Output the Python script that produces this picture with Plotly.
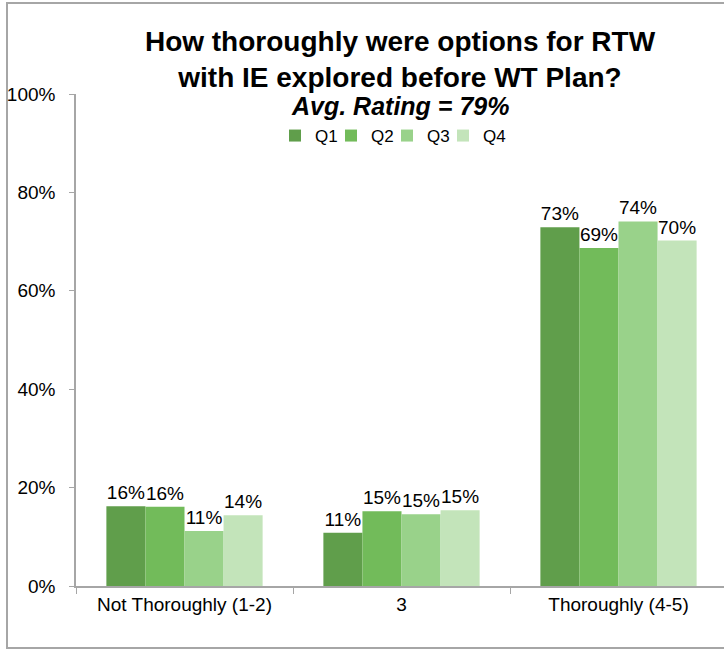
import plotly.graph_objects as go

categories = ["Not Thoroughly (1-2)", "3", "Thoroughly (4-5)"]
series_names = ["Q1", "Q2", "Q3", "Q4"]
q1 = [0.162, 0.108, 0.729]
q2 = [0.161, 0.152, 0.687]
q3 = [0.112, 0.146, 0.741]
q4 = [0.144, 0.154, 0.702]
colors = ["#609e4b", "#72bb5a", "#99d28a", "#c3e4ba"]

FONT = "Liberation Sans, Arial, sans-serif"

fig = go.Figure()
for i, (name, vals, col) in enumerate(zip(series_names, [q1, q2, q3, q4], colors)):
    fig.add_trace(go.Bar(
        name=name, x=categories, y=vals,
        marker=dict(color=col, line=dict(width=0)),
        text=vals, texttemplate="%{y:.0%}", textposition="outside",
        textfont=dict(size=19, color="black", family=FONT),
        constraintext="none", cliponaxis=False,
        legendwidth=40 if i == len(series_names) - 1 else 11,
    ))

W, H = 724, 651
ml, mr, mt, mb = 76, 0, 94, 65
pw = W - ml - mr
ph = H - mt - mb
catw = 217.0

def px_x(p):
    return (p - ml) / pw

def px_y(p):
    return (H - mb - p) / ph

fig.update_layout(
    width=W, height=H,
    margin=dict(l=ml, r=mr, t=mt, b=mb, pad=0),
    paper_bgcolor="white", plot_bgcolor="white",
    font=dict(family=FONT, size=19, color="black"),
    barmode="group", bargap=0.28, bargroupgap=0,
    title=dict(
        text="<b>How thoroughly were options for RTW<br>with IE explored before WT Plan?</b>",
        x=px_x(400), xref="paper", xanchor="center",
        y=1 - 51 / H, yref="container", yanchor="middle",
        font=dict(size=28, family=FONT, color="black"),
    ),
    legend=dict(
        orientation="h", x=px_x(275), xanchor="left",
        y=px_y(136), yanchor="middle",
        font=dict(size=17, family=FONT), itemwidth=30,
        entrywidthmode="pixels",
        bgcolor="rgba(0,0,0,0)",
    ),
    xaxis=dict(
        range=[-0.5, -0.5 + pw / catw], showline=True, linecolor="#a6a6a6",
        linewidth=1.5, ticks="outside", tickson="boundaries", ticklen=6,
        tickcolor="#a6a6a6", showgrid=False, tickfont=dict(size=19),
        fixedrange=True,
    ),
    yaxis=dict(
        range=[0, 1], dtick=0.2, tickformat=".0%", showline=True,
        linecolor="#a6a6a6", linewidth=1.5, ticks="outside", ticklen=5,
        tickcolor="#a6a6a6", showgrid=False, zeroline=False,
        tickfont=dict(size=19), ticklabelstandoff=10,
    ),
    annotations=[dict(
        text="<b><i>Avg. Rating = 79%</i></b>", xref="paper", yref="paper",
        x=px_x(400), y=px_y(106), xanchor="center", yanchor="middle",
        showarrow=False, font=dict(size=25, family=FONT, color="black"),
    )],
    shapes=[dict(
        type="rect", xref="paper", yref="paper",
        x0=px_x(7), x1=px_x(740), y0=px_y(648), y1=px_y(3),
        line=dict(color="#a6a6a6", width=2), fillcolor="rgba(0,0,0,0)",
        layer="below",
    )],
)

fig.write_html("out.html", config={"displayModeBar": False},
               post_script="document.body.style.margin='0';")
